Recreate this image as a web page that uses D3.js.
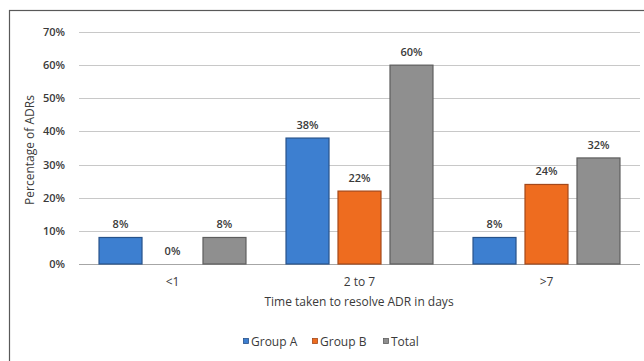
<!DOCTYPE html>
<html>
<head>
<meta charset="utf-8">
<script src="https://cdn.jsdelivr.net/npm/d3@7"></script>
<style>
  html, body { margin: 0; padding: 0; background: #fff; }
  svg { display: block; font-family: "Open Sans", "Noto Sans", sans-serif; }
</style>
</head>
<body>
<svg id="chart" width="644" height="361"></svg>
<script>
// Time taken to resolve ADRs, per group
const categories = ["<1", "2 to 7", ">7"];
const seriesNames = ["Group A", "Group B", "Total"];
const groupA = [8, 38, 8];
const groupB = [0, 22, 24];
const total = [8, 60, 32];
const yTicks = [0, 10, 20, 30, 40, 50, 60, 70];

const seriesValues = [groupA, groupB, total];
const fills = ["#3d7fd0", "#ee6c1f", "#8f8f8f"];
const strokes = ["#27528a", "#a4481a", "#5e5e5e"];
const textColor = "#3a3a3a";

const svg = d3.select("#chart");

// outer frame
svg.append("rect")
  .attr("x", 9.5).attr("y", 10.5)
  .attr("width", 700).attr("height", 400)
  .attr("fill", "none").attr("stroke", "#595959").attr("stroke-width", 1.2);

const plot = { left: 79, right: 640, top: 32, bottom: 264 };

const y = d3.scaleLinear().domain([0, 70]).range([plot.bottom, plot.top]);
const x0 = d3.scaleBand().domain(categories).range([plot.left, plot.right]);
const x1 = d3.scaleBand().domain(seriesNames)
  .range([0, x0.bandwidth()]).paddingInner(0.173).paddingOuter(0.385);

// gridlines
svg.append("g")
  .selectAll("line").data(yTicks).join("line")
  .attr("x1", plot.left).attr("x2", plot.right)
  .attr("y1", d => Math.round(y(d)) + 0.5).attr("y2", d => Math.round(y(d)) + 0.5)
  .attr("stroke", d => d === 0 ? "#a6a6a6" : "#c8c8c8").attr("stroke-width", 1.2);

// y axis tick labels
const yAxis = d3.axisLeft(y).tickValues(yTicks).tickFormat(d => d + "%").tickSize(0).tickPadding(0);
const gy = svg.append("g").attr("transform", `translate(${plot.left - 14},0)`).call(yAxis);
gy.select(".domain").remove();
gy.selectAll("text")
  .attr("font-size", 11).attr("font-weight", 600).attr("fill", textColor)
  .attr("font-family", "\"Open Sans\", sans-serif");

// x axis category labels
const xAxis = d3.axisBottom(x0).tickSize(0).tickPadding(0);
const gx = svg.append("g").attr("transform", `translate(0,${plot.bottom + 13})`).call(xAxis);
gx.select(".domain").remove();
gx.selectAll("text")
  .attr("font-size", 12).attr("fill", textColor)
  .attr("font-family", "\"Open Sans\", sans-serif");

// bars
const groups = svg.append("g").selectAll("g").data(categories).join("g")
  .attr("transform", d => `translate(${x0(d)},0)`);

groups.each(function(cat, ci) {
  const g = d3.select(this);
  seriesNames.forEach((s, si) => {
    const v = seriesValues[si][ci];
    if (v > 0) {
      g.append("rect")
        .attr("x", x1(s)).attr("y", y(v))
        .attr("width", x1.bandwidth()).attr("height", y(0) - y(v))
        .attr("fill", fills[si]).attr("stroke", strokes[si]).attr("stroke-width", 1.2);
    }
    g.append("text")
      .attr("x", x1(s) + x1.bandwidth() / 2)
      .attr("y", y(v) - 9)
      .attr("text-anchor", "middle")
      .attr("font-size", 11).attr("font-weight", 600).attr("fill", textColor)
      .text(v + "%");
  });
});

// axis titles
svg.append("text")
  .attr("transform", `translate(34,${(plot.top + plot.bottom) / 2 + 2}) rotate(-90)`)
  .attr("text-anchor", "middle")
  .attr("font-size", 12).attr("fill", textColor)
  .text("Percentage of ADRs");

svg.append("text")
  .attr("x", 359).attr("y", 306)
  .attr("text-anchor", "middle")
  .attr("font-size", 12).attr("fill", textColor)
  .text("Time taken to resolve ADR in days");

// legend
const legendX = [243, 312, 383];
const legend = svg.append("g").selectAll("g").data(seriesNames).join("g")
  .attr("transform", (d, i) => `translate(${legendX[i]},341)`);
legend.append("rect")
  .attr("x", 0.5).attr("y", -2.5).attr("width", 5).attr("height", 5)
  .attr("fill", (d, i) => fills[i]).attr("stroke", (d, i) => strokes[i]).attr("stroke-width", 0.8);
legend.append("text")
  .attr("x", 8).attr("y", 4.5)
  .attr("font-size", 12).attr("fill", textColor)
  .text(d => d);
</script>
</body>
</html>
